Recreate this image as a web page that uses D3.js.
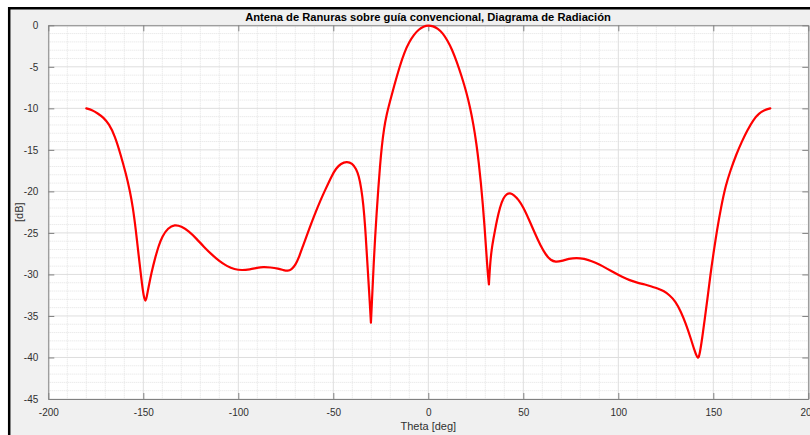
<!DOCTYPE html>
<html>
<head>
<meta charset="utf-8">
<script src="https://cdn.jsdelivr.net/npm/d3@7"></script>
<style>
  html, body { margin: 0; padding: 0; background: #ffffff; }
  svg { display: block; font-family: "Liberation Sans", Arial, Helvetica, sans-serif; }
</style>
</head>
<body>
<svg id="chart" width="810" height="435"></svg>
<script>
// ---- data ----
const titleText = "Antena de Ranuras sobre guía convencional, Diagrama de Radiación";
const xLabel = "Theta [deg]";
const yLabel = "[dB]";
const xTicks = [-200, -150, -100, -50, 0, 50, 100, 150, 200];
const yTicks = [0, -5, -10, -15, -20, -25, -30, -35, -40, -45];

const thetaDeg = [
  -180, -177, -174, -171, -168, -165, -162, -159, -157, -155.5,
  -154, -152.5, -151, -149.8, -148.8, -148.2, -147.2, -145.6, -144, -142,
  -140, -137, -133.5, -130, -126, -122, -118, -114, -110, -106,
  -102, -98, -94, -90, -87, -83, -79, -76, -74, -72,
  -70, -68, -66, -63, -60, -57, -54, -51, -48.5, -46,
  -43, -40, -38, -36.6, -35.3, -34.2, -33.2, -32.4, -31.7, -31.0,
  -30.2, -29.4, -28.7, -28.0, -27.2, -26.3, -25.4, -24.5, -23.3, -22,
  -20.2, -18, -15, -12.5, -10, -7.5, -5, -2.5, 0, 2.5,
  5, 7.5, 10, 12.5, 15, 17.5, 20, 22, 23.8, 25.3,
  26.6, 27.7, 28.7, 29.6, 30.4, 31.2, 31.9, 32.6, 33.4, 34.2,
  35.1, 36.2, 37.7, 39.5, 41.3, 43, 45, 47.5, 50, 53,
  56, 59, 62, 64.5, 67, 70, 74, 78, 82, 86,
  90, 94, 98, 102, 106, 110, 114, 118, 121, 124,
  127, 130, 133, 135.5, 138, 140, 141.5, 142.2, 143, 144.2,
  145.5, 147, 148.5, 150, 152, 154, 156.5, 159, 162, 165,
  168, 171, 174, 177, 180
];
const gainDb = [
  -10.0, -10.2, -10.6, -11.1, -11.9, -13.3, -15.5, -18.0, -20.0, -21.9,
  -24.5, -27.6, -30.6, -32.7, -33.4, -32.7, -31.5, -29.7, -28.2, -26.6,
  -25.4, -24.4, -24.0, -24.2, -24.8, -25.7, -26.7, -27.6, -28.4, -29.0,
  -29.4, -29.5, -29.4, -29.2, -29.1, -29.15, -29.3, -29.5, -29.6, -29.4,
  -28.9, -27.9, -26.6, -24.7, -22.9, -21.2, -19.7, -18.2, -17.2, -16.65,
  -16.4, -16.6, -17.3, -18.1, -19.6, -21.5, -24.3, -27.4, -30.0, -32.6,
  -35.8, -32.0, -28.5, -25.6, -22.6, -19.6, -16.9, -14.6, -12.4, -10.8,
  -9.2, -7.3, -4.9, -3.2, -2.0, -1.1, -0.5, -0.12, 0.0, -0.1,
  -0.4, -0.9, -1.8, -2.9, -4.4, -6.1, -8.0, -9.9, -12.0, -14.2,
  -16.6, -19.0, -21.6, -24.2, -26.9, -29.6, -31.2, -28.5, -26.9, -25.8,
  -24.7, -23.4, -21.9, -20.8, -20.3, -20.2, -20.4, -21.0, -21.9, -23.4,
  -25.0, -26.5, -27.7, -28.3, -28.5, -28.4, -28.1, -28.0, -28.1, -28.4,
  -28.8, -29.3, -29.8, -30.3, -30.7, -31.0, -31.2, -31.5, -31.7, -32.0,
  -32.5, -33.2, -34.5, -35.9, -37.6, -39.1, -40.0, -40.1, -39.4, -37.6,
  -35.4, -32.8, -30.0, -27.6, -24.6, -22.0, -19.3, -17.5, -15.6, -14.0,
  -12.6, -11.4, -10.6, -10.2, -10.0
];

// ---- layout ----
const svg = d3.select("#chart");
const W = 810, H = 435;
const plot = { left: 48.3, right: 808.3, top: 25.3, bottom: 399 };

svg.append("rect").attr("x", 0).attr("y", 0).attr("width", W).attr("height", H).attr("fill", "#ffffff");
svg.append("rect").attr("x", 8).attr("y", 7).attr("width", W - 8).attr("height", H - 7).attr("fill", "#f0f0f0");
svg.append("line").attr("x1", 9.2).attr("x2", 9.2).attr("y1", 7).attr("y2", H).attr("stroke", "#000").attr("stroke-width", 2.5);
svg.append("line").attr("x1", 8).attr("x2", W).attr("y1", 8.2).attr("y2", 8.2).attr("stroke", "#000").attr("stroke-width", 2.5);

const x = d3.scaleLinear().domain([-200, 200]).range([plot.left, plot.right]);
const y = d3.scaleLinear().domain([-45, 0]).range([plot.bottom, plot.top]);

svg.append("rect").attr("x", plot.left).attr("y", plot.top)
  .attr("width", plot.right - plot.left).attr("height", plot.bottom - plot.top).attr("fill", "#ffffff");

// minor grid
const xMinor = d3.range(-200, 201, 10).filter(v => v % 50 !== 0);
const yMinor = d3.range(-45, 1, 1).filter(v => v % 5 !== 0);
const grid = svg.append("g");
grid.selectAll("line.xm").data(xMinor).join("line")
  .attr("x1", d => x(d)).attr("x2", d => x(d)).attr("y1", plot.top).attr("y2", plot.bottom)
  .attr("stroke", "#e2e2e2").attr("stroke-width", 1).attr("stroke-dasharray", "1,1");
grid.selectAll("line.ym").data(yMinor).join("line")
  .attr("x1", plot.left).attr("x2", plot.right).attr("y1", d => y(d)).attr("y2", d => y(d))
  .attr("stroke", "#e2e2e2").attr("stroke-width", 1).attr("stroke-dasharray", "1,1");
// major grid
grid.selectAll("line.xM").data(xTicks).join("line")
  .attr("x1", d => x(d)).attr("x2", d => x(d)).attr("y1", plot.top).attr("y2", plot.bottom)
  .attr("stroke", "#dedede").attr("stroke-width", 1);
grid.selectAll("line.yM").data(yTicks).join("line")
  .attr("x1", plot.left).attr("x2", plot.right).attr("y1", d => y(d)).attr("y2", d => y(d))
  .attr("stroke", "#dedede").attr("stroke-width", 1);

// axes (ticks inward, box on)
const axisColor = "#808080";
const tickLen = 6;
const fmt = d => String(d);
function styleAxis(g) {
  g.select(".domain").attr("stroke", axisColor);
  g.selectAll(".tick line").attr("stroke", axisColor);
  g.selectAll(".tick text").attr("fill", "#303030").attr("font-size", 10)
    .attr("font-family", "'Liberation Sans', Arial, sans-serif");
}
const gx = svg.append("g").attr("transform", `translate(0,${plot.bottom})`)
  .call(d3.axisBottom(x).tickValues(xTicks).tickSizeInner(-tickLen).tickSizeOuter(0).tickPadding(10).tickFormat(fmt));
styleAxis(gx);
gx.selectAll(".tick text").attr("dy", "0.71em");
const gxTop = svg.append("g").attr("transform", `translate(0,${plot.top})`)
  .call(d3.axisTop(x).tickValues(xTicks).tickSizeInner(-tickLen).tickSizeOuter(0).tickFormat(""));
styleAxis(gxTop);
const gy = svg.append("g").attr("transform", `translate(${plot.left},0)`)
  .call(d3.axisLeft(y).tickValues(yTicks).tickSizeInner(-tickLen).tickSizeOuter(0).tickPadding(10).tickFormat(fmt));
styleAxis(gy);
const gyR = svg.append("g").attr("transform", `translate(${plot.right},0)`)
  .call(d3.axisRight(y).tickValues(yTicks).tickSizeInner(-tickLen).tickSizeOuter(0).tickFormat(""));
styleAxis(gyR);

// curve: B-spline through the read points; sharp nulls are kept as corners
const pts = [];
thetaDeg.forEach((t, i) => {
  const v = gainDb[i];
  const sharpNull = i > 0 && i < gainDb.length - 1 &&
    gainDb[i - 1] - v > 1.2 && gainDb[i + 1] - v > 1.2;
  const n = sharpNull ? 3 : 1;
  for (let k = 0; k < n; k++) pts.push([t, v]);
});
svg.append("path").datum(pts)
  .attr("fill", "none").attr("stroke", "#ff0000").attr("stroke-width", 2.2)
  .attr("stroke-linejoin", "round").attr("stroke-linecap", "round")
  .attr("d", d3.line().x(d => x(d[0])).y(d => y(d[1])).curve(d3.curveBasis));

// labels
const title = svg.append("text").attr("x", 428).attr("y", 21).attr("text-anchor", "middle")
  .attr("font-weight", "bold").attr("font-size", 12).attr("fill", "#000").text(titleText);
const tw = title.node().getComputedTextLength();
title.attr("font-size", 12 * 366 / tw);

svg.append("text").attr("x", 428.3).attr("y", 430).attr("text-anchor", "middle")
  .attr("font-size", 11).attr("fill", "#303030").text(xLabel);
svg.append("text").attr("transform", `translate(23,${(plot.top + plot.bottom) / 2}) rotate(-90)`)
  .attr("text-anchor", "middle").attr("font-size", 11).attr("fill", "#303030").text(yLabel);
</script>
</body>
</html>
